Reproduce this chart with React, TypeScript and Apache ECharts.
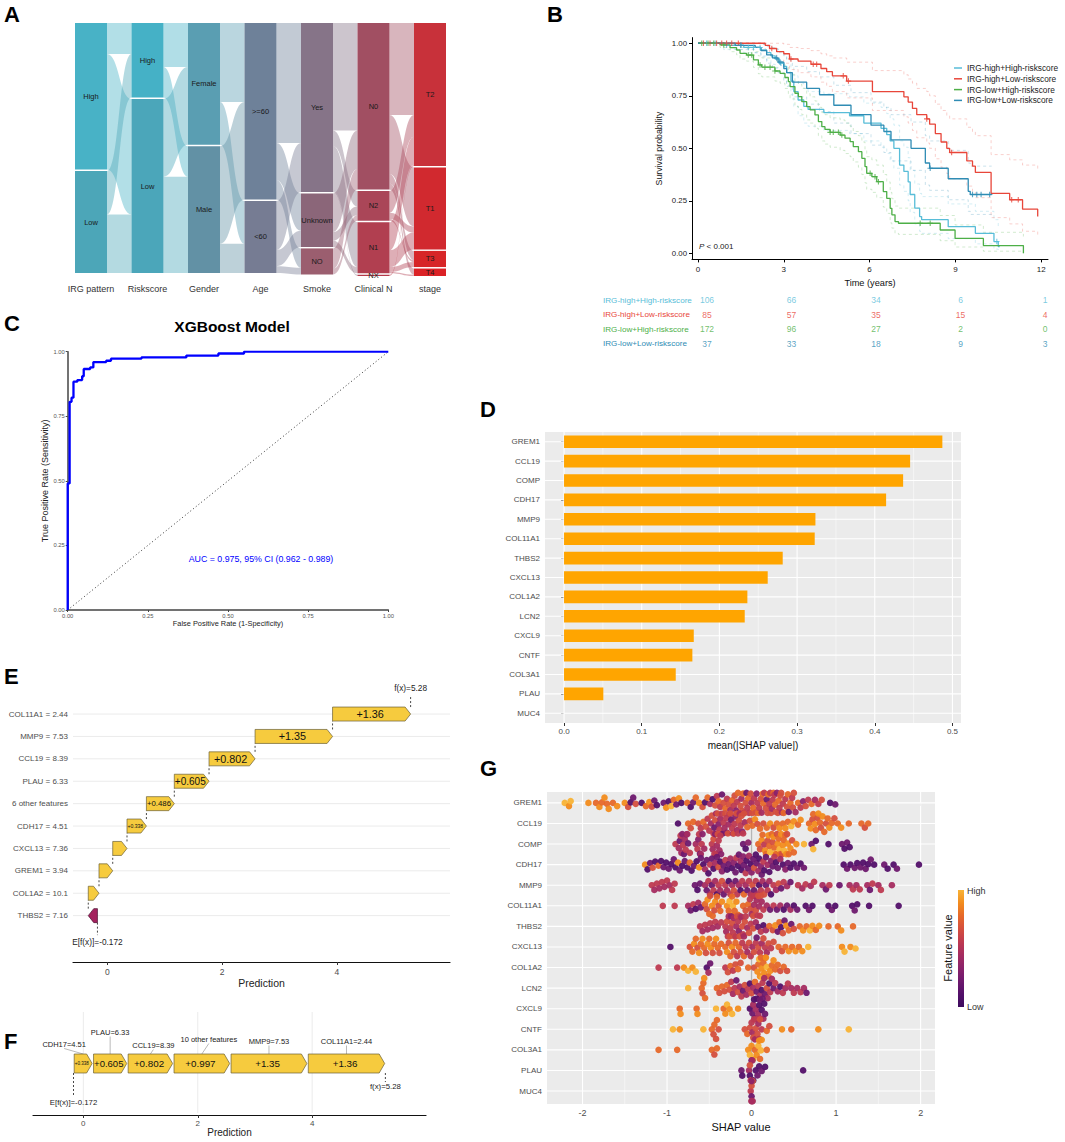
import React, { useEffect, useRef } from 'react';
import * as echarts from 'echarts';

const FONT = '"Liberation Sans", Arial, Helvetica, sans-serif';

// ---------------- Panel A: alluvial ----------------
const SANKEY_AXES = ['IRG pattern', 'Riskscore', 'Gender', 'Age', 'Smoke', 'Clinical N', 'stage'];
const SANKEY_STRATA = [
  ['High', 'Low'],
  ['High', 'Low'],
  ['Female', 'Male'],
  ['>=60', '<60'],
  ['Yes', 'Unknown', 'NO'],
  ['N0', 'N2', 'N1', 'NX'],
  ['T2', 'T1', 'T3', 'T4'],
];
const SANKEY_COLORS = [
  ['#48B2C6', '#4CA6B8'],
  ['#45B1C6', '#4BA6BA'],
  ['#5A9EB2', '#6291A5'],
  ['#6E8199', '#767C93'],
  ['#867488', '#8B6679', '#9B5E6F'],
  ['#A14F62', '#AA4658', '#B13F50', '#B53A4A'],
  ['#C8313A', '#D1292F', '#D72527', '#DB2226'],
];
// FLOWS[k][i][j]: count from stratum i of axis k to stratum j of axis k+1
const SANKEY_FLOWS = [
  [[50, 186], [70, 94]],
  [[71, 49], [125, 155]],
  [[127, 69], [157, 47]],
  [[193, 60, 31], [79, 26, 11]],
  [[173, 25, 72, 2], [62, 14, 10, 0], [33, 9, 0, 0]],
  [[148, 95, 15, 10], [35, 10, 3, 0], [45, 27, 8, 2], [2, 0, 0, 0]],
];

// ---------------- Panel B: Kaplan-Meier ----------------
const KM_GROUPS = ['IRG-high+High-riskscore', 'IRG-high+Low-riskscore', 'IRG-low+High-riskscore', 'IRG-low+Low-riskscore'];
const KM_COLORS = ['#58BDD8', '#E8463A', '#4DAF47', '#2F8CB4'];
const KM_T_HH = [0, 0.9, 1.6, 2.2, 2.4, 2.55, 2.7, 2.85, 3.0, 3.1, 3.25, 3.35, 3.5, 3.7, 3.85, 4.4, 5.3, 5.8, 6.4, 6.6, 6.72, 6.85, 7.05, 7.2, 7.35, 7.42, 7.58, 7.75, 7.82, 8.75, 9.7, 10.35, 10.5];
const KM_S_HH = [1, 0.99, 0.98, 0.968, 0.955, 0.94, 0.925, 0.905, 0.89, 0.86, 0.82, 0.77, 0.73, 0.70, 0.685, 0.67, 0.655, 0.62, 0.595, 0.565, 0.535, 0.50, 0.42, 0.39, 0.34, 0.28, 0.215, 0.175, 0.16, 0.127, 0.095, 0.056, 0.032];
const KM_U_HH = [1, 1, 1, 0.995, 0.99, 0.98, 0.97, 0.955, 0.945, 0.92, 0.885, 0.845, 0.81, 0.785, 0.77, 0.76, 0.745, 0.715, 0.695, 0.665, 0.64, 0.61, 0.535, 0.505, 0.455, 0.395, 0.33, 0.285, 0.27, 0.235, 0.20, 0.16, 0.13];
const KM_L_HH = [1, 0.97, 0.955, 0.94, 0.92, 0.90, 0.88, 0.855, 0.835, 0.80, 0.755, 0.70, 0.655, 0.62, 0.605, 0.585, 0.57, 0.535, 0.505, 0.475, 0.44, 0.405, 0.325, 0.295, 0.25, 0.195, 0.14, 0.105, 0.095, 0.07, 0.045, 0.02, 0.008];
const KM_END_HH = 10.55;
const KM_CENSOR_HH = [0.3, 0.6, 1.0, 1.5, 1.76, 1.94, 2.17, 2.9, 10.45];

const KM_T_HL = [0, 2.35, 2.5, 2.75, 3.0, 3.2, 3.5, 3.95, 4.3, 4.5, 4.7, 5.2, 6.1, 7.2, 7.35, 7.5, 7.65, 8.0, 8.1, 8.3, 8.5, 8.7, 8.8, 9.4, 9.6, 9.7, 10.25, 10.9, 11.35, 11.88];
const KM_S_HL = [1, 0.99, 0.975, 0.96, 0.95, 0.925, 0.915, 0.90, 0.88, 0.865, 0.845, 0.82, 0.77, 0.745, 0.72, 0.69, 0.66, 0.64, 0.615, 0.57, 0.53, 0.50, 0.48, 0.44, 0.415, 0.385, 0.285, 0.255, 0.21, 0.175];
const KM_U_HL = [1, 1, 1, 1, 0.995, 0.98, 0.975, 0.965, 0.95, 0.94, 0.93, 0.91, 0.87, 0.85, 0.83, 0.81, 0.785, 0.77, 0.75, 0.71, 0.68, 0.655, 0.64, 0.60, 0.58, 0.56, 0.47, 0.445, 0.42, 0.40];
const KM_L_HL = [1, 0.97, 0.945, 0.92, 0.905, 0.875, 0.86, 0.84, 0.815, 0.795, 0.77, 0.74, 0.68, 0.65, 0.62, 0.585, 0.55, 0.525, 0.50, 0.45, 0.41, 0.38, 0.355, 0.32, 0.29, 0.265, 0.17, 0.14, 0.105, 0.075];
const KM_END_HL = 11.88;
const KM_CENSOR_HL = [0.19, 0.42, 0.65, 0.83, 1.0, 1.18, 1.41, 2.58, 3.25, 4.03, 4.15, 5.08, 5.26, 8.0, 8.87, 10.97, 11.2];

const KM_T_LH = [0, 0.77, 1.12, 1.35, 1.47, 1.70, 1.94, 2.11, 2.23, 2.69, 2.87, 3.04, 3.16, 3.22, 3.39, 3.51, 3.63, 3.80, 3.92, 4.09, 4.21, 4.33, 4.44, 4.62, 4.97, 5.14, 5.32, 5.43, 5.61, 5.73, 5.84, 5.90, 6.08, 6.25, 6.48, 6.60, 6.72, 6.78, 6.89, 7.01, 8.47, 8.99, 9.98, 11.38];
const KM_S_LH = [1, 0.992, 0.979, 0.968, 0.952, 0.944, 0.921, 0.897, 0.886, 0.868, 0.857, 0.837, 0.817, 0.794, 0.762, 0.746, 0.722, 0.698, 0.683, 0.659, 0.627, 0.603, 0.590, 0.576, 0.563, 0.548, 0.532, 0.508, 0.484, 0.452, 0.413, 0.381, 0.365, 0.341, 0.294, 0.262, 0.214, 0.183, 0.151, 0.143, 0.111, 0.071, 0.037, 0];
const KM_U_LH = [1, 1, 0.995, 0.99, 0.98, 0.975, 0.96, 0.94, 0.93, 0.915, 0.905, 0.89, 0.87, 0.85, 0.82, 0.805, 0.785, 0.76, 0.745, 0.725, 0.695, 0.67, 0.66, 0.645, 0.635, 0.62, 0.605, 0.58, 0.56, 0.53, 0.49, 0.46, 0.445, 0.42, 0.375, 0.34, 0.29, 0.26, 0.225, 0.215, 0.18, 0.135, 0.10, 0.08];
const KM_L_LH = [1, 0.98, 0.96, 0.945, 0.925, 0.915, 0.885, 0.855, 0.84, 0.82, 0.81, 0.785, 0.76, 0.735, 0.70, 0.685, 0.66, 0.635, 0.62, 0.595, 0.56, 0.535, 0.52, 0.505, 0.49, 0.475, 0.46, 0.435, 0.41, 0.375, 0.335, 0.305, 0.29, 0.265, 0.22, 0.19, 0.145, 0.12, 0.095, 0.09, 0.06, 0.03, 0.01, 0];
const KM_END_LH = 11.38;
const KM_CENSOR_LH = [0.13, 0.35, 0.55, 0.9, 1.76, 1.88, 2.17, 2.34, 2.52, 2.69, 4.62, 4.73, 4.91, 5.03, 6.02, 6.19, 6.31, 7.77, 8.12];

const KM_T_LL = [0, 1.3, 2.0, 2.2, 2.4, 2.6, 2.8, 3.0, 3.1, 3.3, 3.8, 4.25, 4.75, 5.35, 6.05, 6.5, 6.75, 7.45, 7.95, 8.1, 8.75, 9.45, 9.52];
const KM_S_LL = [1, 0.99, 0.98, 0.965, 0.945, 0.93, 0.91, 0.88, 0.86, 0.815, 0.785, 0.755, 0.705, 0.66, 0.61, 0.58, 0.54, 0.50, 0.43, 0.405, 0.355, 0.295, 0.28];
const KM_U_LL = [1, 1, 1, 0.995, 0.985, 0.975, 0.96, 0.94, 0.925, 0.89, 0.865, 0.84, 0.80, 0.765, 0.72, 0.695, 0.66, 0.625, 0.56, 0.535, 0.49, 0.43, 0.415];
const KM_L_LL = [1, 0.97, 0.955, 0.935, 0.905, 0.885, 0.86, 0.82, 0.795, 0.745, 0.71, 0.675, 0.62, 0.57, 0.515, 0.48, 0.44, 0.395, 0.325, 0.30, 0.255, 0.20, 0.185];
const KM_END_LL = 10.27;
const KM_CENSOR_LL = [1.5, 2.75, 2.87, 8.12, 9.6, 9.75, 9.9, 10.2];

const KM_TICKS = [0, 3, 6, 9, 12];
const KM_YTICKS = [0, 0.25, 0.5, 0.75, 1];
const RISK_TIMES = [0, 3, 6, 9, 12];
const RISK_HH = [106, 66, 34, 6, 1];
const RISK_HL = [85, 57, 35, 15, 4];
const RISK_LH = [172, 96, 27, 2, 0];
const RISK_LL = [37, 33, 18, 9, 3];

// ---------------- Panel C: ROC ----------------
const ROC_FPR = [0, 0, 0.006, 0.006, 0.012, 0.012, 0.018, 0.018, 0.03, 0.03, 0.045, 0.045, 0.05, 0.05, 0.07, 0.07, 0.08, 0.08, 0.12, 0.12, 0.135, 0.135, 0.23, 0.23, 0.37, 0.37, 0.47, 0.47, 0.55, 0.55, 1];
const ROC_TPR = [0, 0.49, 0.49, 0.806, 0.806, 0.822, 0.822, 0.884, 0.884, 0.89, 0.89, 0.905, 0.905, 0.933, 0.933, 0.939, 0.939, 0.96, 0.96, 0.965, 0.965, 0.973, 0.973, 0.978, 0.978, 0.985, 0.985, 0.993, 0.993, 1, 1];

// ---------------- Panel D: mean |SHAP| ----------------
const D_FEATURES = ['GREM1', 'CCL19', 'COMP', 'CDH17', 'MMP9', 'COL11A1', 'THBS2', 'CXCL13', 'COL1A2', 'LCN2', 'CXCL9', 'CNTF', 'COL3A1', 'PLAU', 'MUC4'];
const D_VALUES = [0.487, 0.4455, 0.4365, 0.4146, 0.3236, 0.3227, 0.2815, 0.2622, 0.236, 0.2326, 0.167, 0.1652, 0.1438, 0.0506, 0.0];
const D_TICKS = [0, 0.1, 0.2, 0.3, 0.4, 0.5];
const D_MINOR = [0.05, 0.15, 0.25, 0.35, 0.45];

// ---------------- Panel E: waterfall ----------------
const E_FEATURES = ['COL11A1 = 2.44', 'MMP9 = 7.53', 'CCL19 = 8.39', 'PLAU = 6.33', '6 other features', 'CDH17 = 4.51', 'CXCL13 = 7.36', 'GREM1 = 3.94', 'COL1A2 = 10.1', 'THBS2 = 7.16'];
const E_CONTRIB = [1.36, 1.35, 0.802, 0.605, 0.486, 0.338, 0.249, 0.239, 0.187, -0.16];
const E_BASE = -0.172;
const PRED_TICKS = [0, 2, 4];

// ---------------- Panel F: force plot ----------------
const F_FEATURES = ['CDH17=4.51', 'PLAU=6.33', 'CCL19=8.39', '10 other features', 'MMP9=7.53', 'COL11A1=2.44'];
const F_CONTRIB = [0.338, 0.605, 0.802, 0.997, 1.35, 1.36];

// ---------------- Panel G: SHAP beeswarm ([shap, feature value 0-9]) ----------------
const G_FEATURES = D_FEATURES;
const G_GREM1 = [[-2.21, 9], [-2.16, 8], [-2.14, 9], [-1.93, 8], [-1.84, 7], [-1.8, 8], [-1.77, 7], [-1.74, 8], [-1.71, 7], [-1.69, 8], [-1.64, 7], [-1.59, 8], [-1.5, 8], [-1.46, 6], [-1.43, 1], [-1.4, 2], [-1.37, 6], [-1.3, 1], [-1.25, 7], [-1.21, 8], [-1.18, 6], [-1.15, 2], [-1.12, 1], [-1.04, 2], [-1.01, 8], [-0.98, 1], [-0.95, 9], [-0.92, 7], [-0.89, 2], [-0.86, 8], [-0.83, 1], [-0.76, 7], [-0.72, 1], [-0.69, 2], [-0.66, 7], [-0.62, 8], [-0.58, 6], [-0.55, 1], [-0.52, 7], [-0.49, 4], [-0.46, 1], [-0.43, 6], [-0.41, 5], [-0.39, 7], [-0.37, 5], [-0.35, 2], [-0.33, 6], [-0.31, 7], [-0.29, 5], [-0.27, 6], [-0.25, 4], [-0.23, 7], [-0.21, 5], [-0.2, 6], [-0.18, 3], [-0.17, 5], [-0.16, 7], [-0.15, 5], [-0.13, 6], [-0.12, 4], [-0.11, 6], [-0.1, 7], [-0.09, 5], [-0.07, 6], [-0.06, 2], [-0.05, 5], [-0.04, 7], [-0.03, 5], [-0.01, 6], [0.0, 4], [0.01, 6], [0.02, 7], [0.03, 5], [0.05, 6], [0.06, 3], [0.07, 5], [0.08, 7], [0.09, 5], [0.11, 6], [0.12, 4], [0.13, 7], [0.14, 7], [0.15, 5], [0.17, 6], [0.18, 2], [0.19, 6], [0.2, 7], [0.21, 5], [0.22, 5], [0.23, 6], [0.24, 4], [0.25, 5], [0.26, 7], [0.27, 5], [0.28, 7], [0.29, 6], [0.3, 3], [0.31, 6], [0.32, 7], [0.33, 5], [0.34, 6], [0.35, 6], [0.36, 4], [0.37, 5], [0.38, 7], [0.4, 5], [0.42, 6], [0.43, 7], [0.44, 2], [0.46, 7], [0.48, 5], [0.49, 6], [0.5, 6], [0.52, 4], [0.55, 7], [0.58, 5], [0.61, 3], [0.64, 6], [0.67, 5], [0.71, 7], [0.75, 4], [0.79, 5], [0.83, 6], [0.93, 1], [0.99, 2]];
const G_CCL19 = [[-0.87, 1], [-0.75, 7], [-0.72, 6], [-0.69, 7], [-0.63, 6], [-0.6, 5], [-0.57, 7], [-0.54, 6], [-0.52, 5], [-0.5, 5], [-0.48, 4], [-0.47, 6], [-0.45, 5], [-0.44, 2], [-0.43, 6], [-0.42, 4], [-0.41, 5], [-0.4, 6], [-0.39, 3], [-0.38, 5], [-0.37, 4], [-0.36, 6], [-0.35, 5], [-0.34, 2], [-0.33, 5], [-0.32, 4], [-0.31, 6], [-0.3, 5], [-0.29, 3], [-0.28, 6], [-0.27, 4], [-0.26, 5], [-0.25, 6], [-0.24, 2], [-0.23, 5], [-0.22, 4], [-0.21, 6], [-0.2, 5], [-0.19, 3], [-0.18, 6], [-0.17, 4], [-0.16, 5], [-0.15, 6], [-0.14, 4], [-0.13, 5], [-0.12, 6], [-0.11, 3], [-0.1, 5], [-0.09, 6], [-0.08, 4], [-0.05, 7], [-0.02, 6], [0.01, 7], [0.04, 8], [0.07, 6], [0.1, 7], [0.14, 6], [0.18, 7], [0.22, 8], [0.26, 6], [0.3, 7], [0.33, 8], [0.37, 7], [0.4, 8], [0.43, 7], [0.47, 9], [0.5, 8], [0.55, 7], [0.58, 8], [0.68, 7], [0.7, 8], [0.72, 6], [0.73, 7], [0.75, 8], [0.76, 7], [0.78, 6], [0.79, 8], [0.81, 7], [0.82, 6], [0.84, 8], [0.86, 7], [0.88, 6], [0.9, 7], [0.92, 8], [0.95, 7], [0.98, 6], [1.02, 7], [1.06, 8], [1.15, 7], [1.3, 7], [1.34, 6], [1.38, 7]];
const G_COMP = [[-0.9, 5], [-0.86, 4], [-0.85, 2], [-0.84, 5], [-0.83, 4], [-0.82, 3], [-0.81, 5], [-0.8, 2], [-0.79, 4], [-0.78, 5], [-0.77, 3], [-0.76, 4], [-0.75, 2], [-0.73, 5], [-0.66, 4], [-0.64, 5], [-0.63, 3], [-0.62, 5], [-0.61, 2], [-0.6, 4], [-0.59, 5], [-0.58, 3], [-0.56, 4], [-0.47, 5], [-0.46, 4], [-0.45, 6], [-0.44, 5], [-0.43, 3], [-0.42, 5], [-0.41, 4], [-0.4, 6], [-0.39, 5], [-0.38, 4], [-0.37, 5], [-0.36, 3], [-0.1, 2], [-0.07, 1], [-0.04, 3], [0.08, 7], [0.1, 6], [0.12, 8], [0.13, 7], [0.15, 5], [0.16, 8], [0.17, 7], [0.19, 6], [0.2, 8], [0.21, 7], [0.22, 9], [0.24, 7], [0.25, 6], [0.26, 8], [0.27, 7], [0.28, 9], [0.29, 7], [0.3, 6], [0.31, 8], [0.32, 7], [0.33, 9], [0.34, 7], [0.35, 8], [0.36, 6], [0.37, 8], [0.38, 7], [0.39, 9], [0.4, 7], [0.41, 8], [0.42, 6], [0.43, 8], [0.44, 7], [0.46, 8], [0.48, 6], [0.5, 7], [0.53, 8], [0.62, 9], [0.71, 2], [0.73, 9], [0.76, 1], [0.91, 1], [1.07, 2], [1.1, 1], [1.13, 2], [1.16, 1]];
const G_CDH17 = [[-1.26, 8], [-1.23, 1], [-1.2, 2], [-1.17, 6], [-1.14, 1], [-1.1, 7], [-1.07, 1], [-1.04, 2], [-1.01, 1], [-0.98, 2], [-0.95, 1], [-0.92, 2], [-0.9, 1], [-0.87, 8], [-0.85, 2], [-0.82, 1], [-0.79, 2], [-0.76, 1], [-0.73, 7], [-0.71, 1], [-0.68, 2], [-0.65, 1], [-0.62, 8], [-0.6, 2], [-0.57, 1], [-0.55, 4], [-0.53, 2], [-0.51, 1], [-0.49, 5], [-0.47, 2], [-0.45, 1], [-0.43, 4], [-0.41, 2], [-0.39, 6], [-0.37, 1], [-0.35, 3], [-0.33, 2], [-0.31, 5], [-0.29, 1], [-0.27, 2], [-0.25, 4], [-0.23, 1], [-0.21, 3], [-0.19, 2], [-0.18, 5], [-0.16, 1], [-0.15, 2], [-0.13, 4], [-0.12, 1], [-0.1, 3], [-0.09, 2], [-0.07, 5], [-0.06, 1], [-0.04, 2], [-0.03, 4], [-0.01, 1], [0.0, 3], [0.02, 2], [0.03, 6], [0.05, 1], [0.06, 2], [0.08, 4], [0.09, 1], [0.11, 3], [0.12, 2], [0.14, 5], [0.15, 1], [0.17, 2], [0.19, 4], [0.21, 1], [0.23, 3], [0.25, 2], [0.27, 5], [0.29, 1], [0.31, 2], [0.34, 4], [0.37, 1], [0.4, 3], [0.43, 2], [0.46, 1], [0.5, 1], [0.54, 2], [0.58, 1], [0.62, 2], [1.09, 1], [1.13, 2], [1.17, 1], [1.22, 2], [1.25, 1], [1.29, 2], [1.32, 1], [1.35, 2], [1.38, 1], [1.41, 2], [1.45, 1], [1.57, 2], [1.61, 1], [1.68, 1], [1.72, 2], [1.98, 1]];
const G_MMP9 = [[-1.18, 5], [-1.15, 4], [-1.12, 5], [-1.09, 4], [-1.06, 5], [-1.03, 4], [-1.0, 5], [-0.97, 4], [-0.94, 5], [-0.91, 5], [-0.67, 2], [-0.64, 1], [-0.61, 2], [-0.55, 4], [-0.53, 2], [-0.51, 5], [-0.49, 4], [-0.47, 2], [-0.45, 5], [-0.43, 4], [-0.41, 1], [-0.39, 5], [-0.37, 4], [-0.35, 6], [-0.33, 2], [-0.31, 5], [-0.29, 4], [-0.27, 1], [-0.25, 5], [-0.23, 4], [-0.21, 6], [-0.19, 2], [-0.17, 5], [-0.15, 4], [-0.13, 1], [-0.11, 5], [-0.09, 7], [-0.07, 4], [-0.05, 2], [-0.03, 5], [-0.01, 4], [0.01, 6], [0.03, 2], [0.05, 5], [0.07, 4], [0.09, 1], [0.11, 5], [0.13, 4], [0.15, 6], [0.17, 2], [0.19, 5], [0.21, 4], [0.23, 1], [0.26, 5], [0.29, 4], [0.32, 6], [0.35, 2], [0.38, 5], [0.42, 4], [0.46, 2], [0.55, 5], [0.6, 4], [0.64, 5], [0.7, 4], [0.74, 5], [0.84, 4], [0.88, 2], [0.92, 5], [1.04, 2], [1.16, 4], [1.2, 5], [1.24, 4], [1.28, 5], [1.37, 4], [1.4, 2], [1.43, 5], [1.5, 4], [1.53, 5], [1.66, 4]];
const G_COL11A1 = [[-1.05, 5], [-0.91, 5], [-0.75, 4], [-0.72, 2], [-0.69, 5], [-0.66, 1], [-0.63, 4], [-0.6, 2], [-0.55, 7], [-0.53, 6], [-0.52, 8], [-0.5, 7], [-0.49, 6], [-0.47, 8], [-0.46, 7], [-0.44, 6], [-0.43, 8], [-0.41, 7], [-0.39, 6], [-0.37, 7], [-0.35, 8], [-0.29, 8], [-0.27, 7], [-0.26, 9], [-0.24, 8], [-0.23, 7], [-0.22, 9], [-0.21, 8], [-0.2, 7], [-0.18, 8], [-0.16, 7], [-0.1, 7], [-0.07, 6], [-0.04, 7], [-0.02, 5], [-0.01, 6], [0.0, 4], [0.01, 5], [0.02, 6], [0.03, 4], [0.04, 5], [0.05, 6], [0.06, 4], [0.07, 5], [0.08, 6], [0.09, 4], [0.1, 5], [0.11, 6], [0.12, 4], [0.14, 5], [0.18, 4], [0.22, 2], [0.26, 5], [0.3, 2], [0.34, 4], [0.38, 1], [0.42, 2], [0.46, 4], [0.5, 1], [0.54, 2], [0.64, 1], [0.68, 2], [0.72, 1], [0.91, 1], [0.95, 2], [0.99, 1], [1.19, 1], [1.22, 2], [1.25, 1], [1.39, 1], [1.74, 1]];
const G_THBS2 = [[-0.61, 5], [-0.58, 4], [-0.55, 5], [-0.52, 4], [-0.49, 5], [-0.46, 4], [-0.43, 5], [-0.4, 4], [-0.36, 5], [-0.31, 5], [-0.3, 4], [-0.29, 6], [-0.28, 5], [-0.27, 4], [-0.26, 6], [-0.25, 5], [-0.24, 3], [-0.23, 6], [-0.22, 5], [-0.21, 4], [-0.2, 6], [-0.19, 5], [-0.18, 4], [-0.17, 6], [-0.16, 5], [-0.15, 3], [-0.14, 6], [-0.13, 5], [-0.12, 4], [-0.11, 6], [-0.1, 5], [-0.09, 4], [-0.08, 6], [-0.07, 5], [-0.05, 4], [-0.03, 6], [-0.01, 5], [0.02, 6], [0.05, 4], [0.08, 2], [0.11, 5], [0.14, 1], [0.17, 4], [0.21, 7], [0.25, 6], [0.28, 8], [0.31, 2], [0.33, 7], [0.35, 1], [0.37, 6], [0.39, 2], [0.41, 8], [0.44, 7], [0.47, 2], [0.5, 6], [0.57, 7], [0.61, 8], [0.65, 7], [0.69, 9], [0.72, 8], [0.76, 7], [0.8, 8], [0.91, 7], [1.02, 7], [1.06, 8], [1.2, 7]];
const G_CXCL13 = [[-0.96, 1], [-0.73, 6], [-0.7, 7], [-0.68, 8], [-0.66, 7], [-0.64, 6], [-0.62, 8], [-0.6, 7], [-0.58, 8], [-0.56, 7], [-0.54, 6], [-0.52, 8], [-0.5, 7], [-0.48, 8], [-0.46, 6], [-0.44, 7], [-0.42, 8], [-0.4, 7], [-0.38, 6], [-0.36, 7], [-0.31, 7], [-0.29, 8], [-0.27, 6], [-0.25, 7], [-0.23, 8], [-0.21, 6], [-0.19, 7], [-0.17, 5], [-0.15, 7], [-0.13, 6], [-0.11, 5], [-0.09, 7], [-0.07, 5], [-0.05, 4], [-0.03, 6], [-0.01, 5], [0.01, 4], [0.03, 6], [0.05, 5], [0.06, 2], [0.08, 6], [0.1, 5], [0.12, 4], [0.14, 6], [0.16, 5], [0.18, 4], [0.2, 6], [0.23, 5], [0.26, 6], [0.32, 7], [0.36, 6], [0.4, 7], [0.44, 8], [0.48, 7], [0.52, 8], [0.56, 7], [0.6, 8], [0.67, 9], [1.07, 8], [1.1, 9], [1.17, 8], [1.23, 9]];
const G_COL1A2 = [[-1.1, 5], [-0.88, 5], [-0.8, 8], [-0.75, 9], [-0.7, 8], [-0.66, 9], [-0.53, 1], [-0.51, 4], [-0.49, 2], [-0.31, 5], [-0.28, 6], [-0.25, 7], [-0.22, 5], [-0.19, 6], [-0.16, 7], [-0.13, 6], [-0.04, 7], [0.03, 6], [0.07, 8], [0.08, 7], [0.09, 9], [0.1, 8], [0.11, 7], [0.12, 8], [0.13, 9], [0.14, 7], [0.15, 8], [0.16, 7], [0.17, 8], [0.18, 9], [0.2, 7], [0.22, 8], [0.24, 7], [0.26, 8], [0.28, 7], [0.31, 7], [0.34, 6], [0.38, 7], [0.42, 6]];
const G_LCN2 = [[-0.75, 9], [-0.59, 7], [-0.58, 6], [-0.57, 7], [-0.56, 8], [-0.55, 7], [-0.41, 7], [-0.38, 6], [-0.35, 7], [-0.32, 6], [-0.29, 7], [-0.26, 6], [-0.24, 5], [-0.22, 4], [-0.2, 5], [-0.18, 2], [-0.16, 6], [-0.14, 4], [-0.12, 5], [-0.1, 2], [-0.08, 6], [-0.06, 4], [-0.04, 5], [-0.02, 1], [0.0, 6], [0.02, 4], [0.04, 7], [0.06, 2], [0.08, 5], [0.1, 4], [0.12, 1], [0.13, 5], [0.15, 4], [0.16, 2], [0.18, 6], [0.19, 4], [0.21, 1], [0.22, 5], [0.24, 4], [0.26, 2], [0.28, 5], [0.31, 4], [0.34, 1], [0.37, 5], [0.4, 4], [0.43, 5], [0.47, 4], [0.5, 5], [0.54, 4], [0.58, 5], [0.62, 4], [0.65, 2]];
const G_CXCL9 = [[-0.85, 7], [-0.84, 8], [-0.65, 7], [-0.64, 8], [-0.42, 9], [-0.33, 7], [-0.31, 8], [-0.29, 9], [-0.26, 8], [-0.23, 9], [-0.16, 8], [-0.02, 1], [0.01, 2], [0.02, 4], [0.03, 1], [0.04, 2], [0.05, 4], [0.06, 1], [0.07, 2], [0.08, 4], [0.09, 1], [0.1, 2], [0.11, 4], [0.12, 1], [0.13, 2], [0.14, 4], [0.15, 1], [0.16, 2]];
const G_CNTF = [[-0.93, 9], [-0.85, 8], [-0.57, 9], [-0.47, 7], [-0.45, 6], [-0.44, 7], [-0.42, 6], [-0.41, 7], [-0.39, 6], [-0.08, 6], [-0.05, 7], [-0.02, 6], [0.0, 5], [0.01, 4], [0.02, 6], [0.03, 5], [0.04, 4], [0.05, 6], [0.06, 5], [0.07, 6], [0.08, 4], [0.09, 5], [0.1, 6], [0.12, 5], [0.18, 7], [0.21, 6], [0.36, 8], [0.47, 7], [0.79, 8], [1.15, 9]];
const G_COL3A1 = [[-1.1, 7], [-0.88, 7], [-0.47, 7], [-0.44, 6], [-0.41, 7], [-0.04, 8], [-0.02, 9], [0.0, 8], [0.02, 9], [0.04, 7], [0.06, 8], [0.08, 9], [0.09, 8], [0.1, 7], [0.11, 9], [0.12, 8], [0.18, 7]];
const G_PLAU = [[-0.12, 2], [-0.11, 1], [-0.03, 4], [-0.02, 1], [-0.01, 5], [0.0, 2], [0.01, 4], [0.02, 1], [-0.02, 6], [0.05, 1], [0.07, 2], [0.09, 1], [0.12, 2], [0.16, 1], [0.61, 1]];
const G_MUC4 = [[-0.01, 5], [0.0, 2], [0.0, 6], [0.01, 4], [0.01, 1], [0.0, 5], [0.01, 7], [0.0, 3], [0.01, 5], [0.0, 4]];
const G_ROWS = [G_GREM1, G_CCL19, G_COMP, G_CDH17, G_MMP9, G_COL11A1, G_THBS2, G_CXCL13, G_COL1A2, G_LCN2, G_CXCL9, G_CNTF, G_COL3A1, G_PLAU, G_MUC4];
const G_TICKS = [-2, -1, 0, 1, 2];
const G_MINOR = [-1.5, -0.5, 0.5, 1.5];
const PALETTE = ['#3D0B5E', '#531069', '#6E196E', '#8A226A', '#A52C60', '#BE3A51', '#D44F3E', '#E6682A', '#F28C1E', '#F8B336'];

// ---------------- layout ----------------
const SK = { left: 75, top: 23, width: 371, height: 253, nodeW: 32 };
const G_GRID = { left: 547, top: 792, width: 388, height: 312, xmin: -2.42, xmax: 2.17, ymin: -0.53, ymax: 14.63 };
const G_DOT = 6.6;
const G_GAP = 5.3;
const E_BAR_H = 14;
const F_BAR_H = 19;
const F_BAR_Y = 0.5;
const F_LABEL_PX_Y = [1044, 1032, 1045, 1039, 1041, 1041];
const F_LABEL_DX = [-19, 0, 3, 7, 0, 0];

function stepAt(T: number[], S: number[], t: number) {
  let v = S[0];
  for (let i = 0; i < T.length; i++) if (T[i] <= t) v = S[i];
  return v;
}

function swarm(xs: number[], d: number, cap: number) {
  const order = xs.map((_, i) => i).sort((a, b) => xs[a] - xs[b]);
  const placed: { x: number; y: number }[] = [];
  const out = new Array(xs.length).fill(0);
  for (const i of order) {
    const x = xs[i];
    const near = placed.filter((p) => Math.abs(p.x - x) < d);
    const cands = [0];
    near.forEach((p) => {
      const h = Math.sqrt(Math.max(0, d * d - (p.x - x) * (p.x - x)));
      cands.push(p.y + h, p.y - h);
    });
    cands.sort((a, b) => Math.abs(a) - Math.abs(b));
    let best = cands[cands.length - 1];
    for (const c of cands) {
      if (near.every((p) => (p.x - x) * (p.x - x) + (p.y - c) * (p.y - c) >= d * d - 1e-6)) { best = c; break; }
    }
    placed.push({ x, y: best });
    out[i] = Math.max(-cap, Math.min(cap, best));
  }
  return out;
}

function fmtContrib(c: number) {
  const v = Number(c.toPrecision(3));
  return (v >= 0 ? '+' : '') + String(v);
}

function txt(text: string, x: number, y: number, o: any = {}) {
  return {
    type: 'text', x, y, rotation: o.rotation || 0, silent: true,
    style: {
      text, rich: o.rich, fill: o.color || '#222', fontSize: o.size || 10, fontFamily: o.family || FONT,
      fontWeight: o.weight || 'normal', fontStyle: o.style || 'normal',
      align: o.align || 'center', textAlign: o.align || 'center', verticalAlign: o.va || 'middle', textVerticalAlign: o.va || 'middle',
    },
  };
}

function buildOption() {
  // ---- Sankey
  const nodes: any[] = [];
  const links: any[] = [];
  SANKEY_STRATA.forEach((strata, k) => strata.forEach((s, i) => nodes.push({
    name: `${k}:${s}`, itemStyle: { color: SANKEY_COLORS[k][i], borderWidth: 0 }, label: { formatter: s },
  })));
  SANKEY_FLOWS.forEach((mat, k) => mat.forEach((row, i) => row.forEach((v, j) => {
    if (v > 0) links.push({ source: `${k}:${SANKEY_STRATA[k][i]}`, target: `${k + 1}:${SANKEY_STRATA[k + 1][j]}`, value: v });
  })));

  const series: any[] = [];
  series.push({
    type: 'sankey', left: SK.left, top: SK.top, width: SK.width, height: SK.height,
    nodeWidth: SK.nodeW, nodeGap: 1.5, layoutIterations: 0, draggable: false, silent: true,
    data: nodes, links,
    label: { show: true, position: 'inside', fontSize: 7.5, color: '#1a1a1a', fontFamily: FONT },
    lineStyle: { color: 'source', opacity: 0.42, curveness: 0.5 },
    emphasis: { disabled: true },
  });

  // ---- KM
  const groups = [
    { T: KM_T_HH, S: KM_S_HH, U: KM_U_HH, L: KM_L_HH, end: KM_END_HH, c: KM_CENSOR_HH, risk: RISK_HH },
    { T: KM_T_HL, S: KM_S_HL, U: KM_U_HL, L: KM_L_HL, end: KM_END_HL, c: KM_CENSOR_HL, risk: RISK_HL },
    { T: KM_T_LH, S: KM_S_LH, U: KM_U_LH, L: KM_L_LH, end: KM_END_LH, c: KM_CENSOR_LH, risk: RISK_LH },
    { T: KM_T_LL, S: KM_S_LL, U: KM_U_LL, L: KM_L_LL, end: KM_END_LL, c: KM_CENSOR_LL, risk: RISK_LL },
  ];
  const stepData = (T: number[], V: number[], end: number) => T.map((t, i) => [t, V[i]]).concat([[end, V[V.length - 1]]]);
  groups.forEach((g, gi) => {
    ['U', 'L'].forEach((key) => series.push({
      type: 'line', name: `ci-${gi}-${key}`, xAxisIndex: 0, yAxisIndex: 0, step: 'end', symbol: 'none', silent: true,
      data: stepData(g.T, (g as any)[key], g.end), z: 1,
      lineStyle: { color: KM_COLORS[gi], width: 0.8, type: [3, 3], opacity: 0.32 },
    }));
  });
  groups.forEach((g, gi) => series.push({
    type: 'line', name: KM_GROUPS[gi], xAxisIndex: 0, yAxisIndex: 0, step: 'end', symbol: 'none', silent: true,
    data: stepData(g.T, g.S, g.end), z: 3, color: KM_COLORS[gi],
    lineStyle: { color: KM_COLORS[gi], width: 1.3 },
  }));
  groups.forEach((g, gi) => series.push({
    type: 'scatter', name: `cens-${gi}`, xAxisIndex: 0, yAxisIndex: 0, silent: true, z: 4,
    symbol: 'path://M2,0H3V2H5V3H3V5H2V3H0V2H2Z', symbolSize: 5.5,
    data: g.c.map((t) => [t, stepAt(g.T, g.S, t)]),
    itemStyle: { color: KM_COLORS[gi] },
  }));
  groups.forEach((g, gi) => series.push({
    type: 'scatter', name: `risk-${gi}`, xAxisIndex: 1, yAxisIndex: 1, silent: true, symbolSize: 1,
    data: RISK_TIMES.map((t, i) => [t, gi, g.risk[i]]),
    itemStyle: { color: 'rgba(0,0,0,0)' },
    label: { show: true, position: 'inside', formatter: (p: any) => String(p.value[2]), fontSize: 8.5, fontFamily: FONT, color: KM_COLORS[gi] },
  }));

  // ---- ROC
  series.push({
    type: 'line', name: 'diag', xAxisIndex: 2, yAxisIndex: 2, symbol: 'none', silent: true,
    data: [[0, 0], [1, 1]], lineStyle: { color: '#333', width: 1, type: [1, 2.5] },
  });
  series.push({
    type: 'line', name: 'roc', xAxisIndex: 2, yAxisIndex: 2, symbol: 'none', silent: true, z: 3,
    data: ROC_FPR.map((x, i) => [x, ROC_TPR[i]]), lineStyle: { color: '#0000FF', width: 2.3 },
  });

  // ---- D
  const dV = D_TICKS.map((v) => ({ v, major: true })).concat(D_MINOR.map((v) => ({ v, major: false })));
  series.push({
    type: 'custom', xAxisIndex: 3, yAxisIndex: 3, silent: true, z: 1,
    data: dV.map((o) => [o.v, 0]),
    renderItem: (params: any, api: any) => {
      const cs = params.coordSys; const o = dV[params.dataIndex];
      const x = api.coord([o.v, 0])[0];
      return { type: 'line', shape: { x1: x, y1: cs.y, x2: x, y2: cs.y + cs.height }, style: { stroke: '#fff', lineWidth: o.major ? 1.1 : 0.5 } };
    },
  });
  series.push({
    type: 'custom', xAxisIndex: 3, yAxisIndex: 3, silent: true, z: 1,
    data: D_FEATURES.map((_, i) => [0, i]),
    renderItem: (params: any, api: any) => {
      const cs = params.coordSys;
      const y = api.coord([0, params.dataIndex])[1];
      return { type: 'line', shape: { x1: cs.x, y1: y, x2: cs.x + cs.width, y2: y }, style: { stroke: '#fff', lineWidth: 1.1 } };
    },
  });
  series.push({
    type: 'bar', xAxisIndex: 3, yAxisIndex: 3, silent: true, z: 2, barWidth: 12.6,
    data: D_VALUES, itemStyle: { color: '#FFA500' },
  });

  // ---- E
  const nE = E_FEATURES.length;
  const eStart: number[] = new Array(nE); const eEnd: number[] = new Array(nE);
  let acc = E_BASE;
  for (let r = nE - 1; r >= 0; r--) { eStart[r] = acc; acc += E_CONTRIB[r]; eEnd[r] = acc; }
  const E_FX = acc;
  series.push({
    type: 'custom', xAxisIndex: 4, yAxisIndex: 4, silent: true, z: 1,
    data: E_FEATURES.map((_, r) => [0, r]),
    renderItem: (params: any, api: any) => {
      const cs = params.coordSys; const y = api.coord([0, params.dataIndex])[1];
      return { type: 'line', shape: { x1: cs.x, y1: y, x2: cs.x + cs.width, y2: y }, style: { stroke: '#EBEBEB', lineWidth: 1 } };
    },
  });
  const eConn: { x: number; r1: number; r2: number; d1: number; d2: number }[] = [];
  for (let r = 0; r < nE - 1; r++) eConn.push({ x: eStart[r], r1: r + 1, r2: r, d1: -E_BAR_H / 2, d2: E_BAR_H / 2 });
  eConn.push({ x: E_FX, r1: 0, r2: -0.85, d1: -E_BAR_H / 2, d2: 0 });
  eConn.push({ x: E_BASE, r1: nE - 1, r2: nE - 1 + 0.87, d1: E_BAR_H / 2, d2: 0 });
  series.push({
    type: 'custom', xAxisIndex: 4, yAxisIndex: 4, silent: true, z: 2,
    data: eConn.map((c) => [c.x, c.r1]),
    renderItem: (params: any, api: any) => {
      const c = eConn[params.dataIndex];
      const p1 = api.coord([c.x, c.r1]); const p2 = api.coord([c.x, c.r2]);
      return { type: 'line', shape: { x1: p1[0], y1: p1[1] + c.d1, x2: p2[0], y2: p2[1] + c.d2 }, style: { stroke: '#333', lineWidth: 0.9, lineDash: [2, 2] } };
    },
  });
  series.push({
    type: 'custom', xAxisIndex: 4, yAxisIndex: 4, silent: true, z: 3,
    data: eStart.map((s, r) => [s, r]),
    renderItem: (params: any, api: any) => {
      const r = params.dataIndex; const s = eStart[r]; const e = eEnd[r]; const c = E_CONTRIB[r];
      const p0 = api.coord([s, r]); const p1 = api.coord([e, r]);
      const x0 = p0[0], x1 = p1[0], y = p0[1], h = E_BAR_H;
      const w = Math.abs(x1 - x0); const a = Math.min(5.5, w * 0.6); const dir = x1 >= x0 ? 1 : -1;
      const pts = [[x0, y - h / 2], [x1 - dir * a, y - h / 2], [x1, y], [x1 - dir * a, y + h / 2], [x0, y + h / 2]];
      const label = fmtContrib(c);
      const fs = Math.min(10.8, (w - a * 0.5 - 1) / (0.515 * label.length));
      const children: any[] = [{ type: 'polygon', shape: { points: pts }, style: { fill: c >= 0 ? '#F6CB3E' : '#A4225E', stroke: c >= 0 ? '#6B6035' : '#4A1030', lineWidth: 0.7 } }];
      if (fs >= 4.5) children.push({ type: 'text', style: { text: label, x: (x0 + x1) / 2 - dir * a * 0.25, y, fill: '#111', fontSize: fs, fontFamily: FONT, align: 'center', textAlign: 'center', verticalAlign: 'middle', textVerticalAlign: 'middle' } });
      return { type: 'group', children };
    },
  });
  const eAnn = [
    { x: E_FX, r: -1.16, t: `f(x)=${E_FX.toFixed(2)}` },
    { x: E_BASE, r: nE - 1 + 1.18, t: `E[f(x)]=${E_BASE}` },
  ];
  series.push({
    type: 'custom', xAxisIndex: 4, yAxisIndex: 4, silent: true, z: 3,
    data: eAnn.map((a) => [a.x, a.r]),
    renderItem: (params: any, api: any) => {
      const a = eAnn[params.dataIndex]; const p = api.coord([a.x, a.r]);
      return { type: 'text', style: { text: a.t, x: p[0], y: p[1], fill: '#222', fontSize: 8.3, fontFamily: FONT, align: 'center', textAlign: 'center', verticalAlign: 'middle', textVerticalAlign: 'middle' } };
    },
  });

  // ---- F
  const nF = F_FEATURES.length;
  const fStart: number[] = []; const fEnd: number[] = [];
  let accF = E_BASE;
  for (let i = 0; i < nF; i++) { fStart.push(accF); accF += F_CONTRIB[i]; fEnd.push(accF); }
  const F_FX = accF;
  series.push({
    type: 'custom', xAxisIndex: 5, yAxisIndex: 5, silent: true, z: 1,
    data: PRED_TICKS.map((v) => [v, 0]),
    renderItem: (params: any, api: any) => {
      const cs = params.coordSys; const x = api.coord([PRED_TICKS[params.dataIndex], 0])[0];
      return { type: 'line', shape: { x1: x, y1: cs.y, x2: x, y2: cs.y + cs.height - 2 }, style: { stroke: '#EBEBEB', lineWidth: 1 } };
    },
  });
  series.push({
    type: 'custom', xAxisIndex: 5, yAxisIndex: 5, silent: true, z: 3,
    data: fStart.map((s) => [s, F_BAR_Y]),
    renderItem: (params: any, api: any) => {
      const i = params.dataIndex;
      const p0 = api.coord([fStart[i], F_BAR_Y]); const p1 = api.coord([fEnd[i], F_BAR_Y]);
      const x0 = p0[0] + 0.7, x1 = p1[0] - 0.7, y = p0[1], h = F_BAR_H;
      const w = x1 - x0; const a = Math.min(5.5, w * 0.5);
      const pts = [[x0, y - h / 2], [x1 - a, y - h / 2], [x1, y], [x1 - a, y + h / 2], [x0, y + h / 2]];
      const label = fmtContrib(F_CONTRIB[i]);
      const fs = Math.min(9.8, (w - a * 0.5 - 1) / (0.515 * label.length));
      const cx = (p0[0] + p1[0]) / 2;
      const ly = F_LABEL_PX_Y[i]; const lx = cx + F_LABEL_DX[i];
      return {
        type: 'group', children: [
          { type: 'line', shape: { x1: lx, y1: ly + 4.5, x2: cx, y2: y - h / 2 }, style: { stroke: '#8A8A8A', lineWidth: 0.6 } },
          { type: 'polygon', shape: { points: pts }, style: { fill: '#F6CB3E', stroke: '#6B6035', lineWidth: 0.7 } },
          { type: 'text', style: { text: label, x: (x0 + x1) / 2 - a * 0.25, y, fill: '#111', fontSize: fs, fontFamily: FONT, align: 'center', textAlign: 'center', verticalAlign: 'middle', textVerticalAlign: 'middle' } },
          { type: 'text', style: { text: F_FEATURES[i], x: lx, y: ly, fill: '#222', fontSize: 7.5, fontFamily: FONT, align: 'center', textAlign: 'center', verticalAlign: 'middle', textVerticalAlign: 'middle' } },
        ],
      };
    },
  });
  const fAnn = [
    { x: F_FX, yTo: 0.32, ty: 0.275, t: `f(x)=${F_FX.toFixed(2)}` },
    { x: E_BASE, yTo: 0.175, ty: 0.12, t: `E[f(x)]=${E_BASE}` },
  ];
  series.push({
    type: 'custom', xAxisIndex: 5, yAxisIndex: 5, silent: true, z: 2,
    data: fAnn.map((a) => [a.x, a.ty]),
    renderItem: (params: any, api: any) => {
      const a = fAnn[params.dataIndex];
      const pb = api.coord([a.x, F_BAR_Y]); const pe = api.coord([a.x, a.yTo]); const pt = api.coord([a.x, a.ty]);
      return {
        type: 'group', children: [
          { type: 'line', shape: { x1: pb[0], y1: pb[1] + F_BAR_H / 2, x2: pe[0], y2: pe[1] }, style: { stroke: '#333', lineWidth: 0.9, lineDash: [2, 2] } },
          { type: 'text', style: { text: a.t, x: pt[0], y: pt[1], fill: '#222', fontSize: 7.8, fontFamily: FONT, align: 'center', textAlign: 'center', verticalAlign: 'middle', textVerticalAlign: 'middle' } },
        ],
      };
    },
  });

  // ---- G
  const gxLines = G_TICKS.map((v) => ({ v, w: 1.1 })).concat(G_MINOR.map((v) => ({ v, w: 0.5 })));
  series.push({
    type: 'custom', xAxisIndex: 6, yAxisIndex: 6, silent: true, z: 1,
    data: gxLines.map((o) => [o.v, 0]),
    renderItem: (params: any, api: any) => {
      const cs = params.coordSys; const o = gxLines[params.dataIndex]; const x = api.coord([o.v, 0])[0];
      return { type: 'line', shape: { x1: x, y1: cs.y, x2: x, y2: cs.y + cs.height }, style: { stroke: '#fff', lineWidth: o.w } };
    },
  });
  series.push({
    type: 'custom', xAxisIndex: 6, yAxisIndex: 6, silent: true, z: 1,
    data: G_FEATURES.map((_, r) => [0, r]),
    renderItem: (params: any, api: any) => {
      const cs = params.coordSys; const y = api.coord([0, params.dataIndex])[1];
      return { type: 'line', shape: { x1: cs.x, y1: y, x2: cs.x + cs.width, y2: y }, style: { stroke: '#fff', lineWidth: 1.1 } };
    },
  });
  series.push({
    type: 'custom', xAxisIndex: 6, yAxisIndex: 6, silent: true, z: 2,
    data: [[0, 0]],
    renderItem: (params: any, api: any) => {
      const cs = params.coordSys; const x = api.coord([0, 0])[0];
      return { type: 'line', shape: { x1: x, y1: cs.y, x2: x, y2: cs.y + cs.height }, style: { stroke: '#B5B5B5', lineWidth: 1.3 } };
    },
  });
  const pxX = G_GRID.width / (G_GRID.xmax - G_GRID.xmin);
  const pxRow = G_GRID.height / (G_GRID.ymax - G_GRID.ymin);
  const gData: any[] = [];
  G_ROWS.forEach((pts, row) => {
    const dys = swarm(pts.map((p) => p[0] * pxX), G_GAP, 10);
    pts.forEach((p, i) => gData.push([p[0], row + dys[i] / pxRow, p[1]]));
  });
  series.push({
    type: 'scatter', xAxisIndex: 6, yAxisIndex: 6, silent: true, z: 3, symbolSize: G_DOT,
    data: gData, itemStyle: { color: (p: any) => PALETTE[p.value[2]], opacity: 0.95 },
  });

  // ---- axes
  const axLabel = (o: any) => ({ fontFamily: FONT, color: '#4D4D4D', fontSize: 8, ...o });
  const xAxis: any[] = [
    {
      gridIndex: 0, type: 'value', min: -0.21, max: 12.24,
      axisLine: { show: true, onZero: false, lineStyle: { color: '#000', width: 1 } },
      axisTick: { show: true, length: 3, customValues: KM_TICKS, lineStyle: { color: '#000' } },
      axisLabel: axLabel({ customValues: KM_TICKS, fontSize: 8, color: '#222', margin: 6 }),
      splitLine: { show: false }, name: 'Time (years)', nameLocation: 'middle', nameGap: 19,
      nameTextStyle: { fontSize: 9.2, fontFamily: FONT, color: '#111' },
    },
    { gridIndex: 1, type: 'value', min: 0, max: 12, show: false },
    {
      gridIndex: 2, type: 'value', min: 0, max: 1, interval: 0.25,
      axisLine: { show: true, onZero: false, lineStyle: { color: '#444', width: 1.5 } },
      axisTick: { show: true, length: 2, lineStyle: { color: '#444' } },
      axisLabel: axLabel({ formatter: (v: number) => v.toFixed(2), fontSize: 5.8, color: '#555', margin: 3 }),
      splitLine: { show: false }, name: 'False Positive Rate (1-Specificity)', nameLocation: 'middle', nameGap: 10,
      nameTextStyle: { fontSize: 7.4, fontFamily: FONT, color: '#222' },
    },
    {
      gridIndex: 3, type: 'value', min: -0.0245, max: 0.511,
      axisLine: { show: false }, axisTick: { show: true, length: 3, customValues: D_TICKS, lineStyle: { color: '#333' } },
      axisLabel: axLabel({ customValues: D_TICKS, formatter: (v: number) => v.toFixed(1), margin: 4 }),
      splitLine: { show: false }, name: 'mean(|SHAP value|)', nameLocation: 'middle', nameGap: 17,
      nameTextStyle: { fontSize: 10, fontFamily: FONT, color: '#111' },
    },
    {
      gridIndex: 4, type: 'value', min: -0.598, max: 5.97,
      axisLine: { show: true, onZero: false, lineStyle: { color: '#111', width: 1.2 } },
      axisTick: { show: true, length: 3, customValues: PRED_TICKS, lineStyle: { color: '#333' } },
      axisLabel: axLabel({ customValues: PRED_TICKS, fontSize: 8.5, margin: 5 }),
      splitLine: { show: false }, name: 'Prediction', nameLocation: 'middle', nameGap: 15,
      nameTextStyle: { fontSize: 10.5, fontFamily: FONT, color: '#222' },
    },
    {
      gridIndex: 5, type: 'value', min: -0.88, max: 5.99,
      axisLine: { show: true, onZero: false, lineStyle: { color: '#111', width: 1.2 } },
      axisTick: { show: true, length: 3, customValues: PRED_TICKS, lineStyle: { color: '#333' } },
      axisLabel: axLabel({ customValues: PRED_TICKS, fontSize: 8, margin: 4 }),
      splitLine: { show: false }, name: 'Prediction', nameLocation: 'middle', nameGap: 12,
      nameTextStyle: { fontSize: 10, fontFamily: FONT, color: '#222' },
    },
    {
      gridIndex: 6, type: 'value', min: G_GRID.xmin, max: G_GRID.xmax,
      axisLine: { show: false }, axisTick: { show: true, length: 3, customValues: G_TICKS, lineStyle: { color: '#333' } },
      axisLabel: axLabel({ customValues: G_TICKS, fontSize: 9, margin: 4 }),
      splitLine: { show: false }, name: 'SHAP value', nameLocation: 'middle', nameGap: 17,
      nameTextStyle: { fontSize: 11, fontFamily: FONT, color: '#111' },
    },
  ];
  const rowIdx = (n: number) => Array.from({ length: n }, (_, i) => i);
  const yAxis: any[] = [
    {
      gridIndex: 0, type: 'value', min: -0.029, max: 1.027,
      axisLine: { show: true, onZero: false, lineStyle: { color: '#000', width: 1 } },
      axisTick: { show: true, length: 3, customValues: KM_YTICKS, lineStyle: { color: '#000' } },
      axisLabel: axLabel({ customValues: KM_YTICKS, formatter: (v: number) => v.toFixed(2), fontSize: 7.8, color: '#222', margin: 5 }),
      splitLine: { show: false }, name: 'Survival probability', nameLocation: 'middle', nameGap: 29,
      nameTextStyle: { fontSize: 8.8, fontFamily: FONT, color: '#111' },
    },
    { gridIndex: 1, type: 'value', min: -0.5, max: 3.5, inverse: true, show: false },
    {
      gridIndex: 2, type: 'value', min: 0, max: 1, interval: 0.25,
      axisLine: { show: true, onZero: false, lineStyle: { color: '#444', width: 1.5 } },
      axisTick: { show: true, length: 2, lineStyle: { color: '#444' } },
      axisLabel: axLabel({ formatter: (v: number) => v.toFixed(2), fontSize: 5.8, color: '#555', margin: 3 }),
      splitLine: { show: false }, name: 'True Positive Rate (Sensitivity)', nameLocation: 'middle', nameGap: 15,
      nameTextStyle: { fontSize: 9, fontFamily: FONT, color: '#222' },
    },
    {
      gridIndex: 3, type: 'category', data: D_FEATURES, inverse: true,
      axisLine: { show: false }, axisTick: { show: true, length: 3, alignWithLabel: true, lineStyle: { color: '#333' } },
      axisLabel: axLabel({ margin: 5 }), splitLine: { show: false },
    },
    {
      gridIndex: 4, type: 'value', min: -1.52, max: 11.07, inverse: true,
      axisLine: { show: false }, axisTick: { show: false },
      axisLabel: axLabel({ customValues: rowIdx(nE), formatter: (v: number) => E_FEATURES[Math.round(v)] || '', fontSize: 8, margin: 5 }),
      splitLine: { show: false },
    },
    { gridIndex: 5, type: 'value', min: 0, max: 1, show: false },
    {
      gridIndex: 6, type: 'value', min: G_GRID.ymin, max: G_GRID.ymax, inverse: true,
      axisLine: { show: false }, axisTick: { show: true, length: 3, customValues: rowIdx(15), lineStyle: { color: '#333' } },
      axisLabel: axLabel({ customValues: rowIdx(15), formatter: (v: number) => G_FEATURES[Math.round(v)] || '', margin: 5 }),
      splitLine: { show: false },
    },
  ];

  const grid = [
    { left: 692, top: 37.6, width: 356, height: 221.8 },
    { left: 707, top: 292.75, width: 338, height: 58 },
    { left: 67.7, top: 351.7, width: 320.6, height: 258.3 },
    { left: 545, top: 432, width: 416, height: 291, show: true, backgroundColor: '#EBEBEB', borderWidth: 0 },
    { left: 73, top: 680, width: 377, height: 282 },
    { left: 33, top: 1012, width: 393, height: 103 },
    { left: G_GRID.left, top: G_GRID.top, width: G_GRID.width, height: G_GRID.height, show: true, backgroundColor: '#EBEBEB', borderWidth: 0 },
  ];

  // ---- graphic texts
  const graphic: any[] = [];
  const letter = (t: string, x: number, y: number) => graphic.push(txt(t, x, y, { size: 22, weight: 'bold', align: 'left', va: 'top', color: '#000', family: 'Arial, "Liberation Sans", sans-serif' }));
  letter('A', 4, 3); letter('B', 547, 3); letter('C', 4, 312); letter('D', 480, 398);
  letter('E', 4, 665); letter('F', 4, 1030); letter('G', 480, 757);
  const colStep = (SK.width - SK.nodeW) / (SANKEY_AXES.length - 1);
  SANKEY_AXES.forEach((a, i) => graphic.push(txt(a, SK.left + SK.nodeW / 2 + i * colStep, 288.5, { size: 9, color: '#333' })));
  graphic.push(txt('{i|P} < 0.001', 699, 246.7, { size: 8, align: 'left', rich: { i: { fontStyle: 'italic', fontSize: 8, fontFamily: FONT, fill: '#222' } } }));
  KM_GROUPS.forEach((g, i) => graphic.push(txt(g, 603, 300 + i * 14.5, { size: 8.1, align: 'left', color: KM_COLORS[i] })));
  graphic.push(txt('XGBoost Model', 232, 326, { size: 15.5, weight: 'bold', color: '#000' }));
  graphic.push(txt('AUC = 0.975, 95% CI (0.962 - 0.989)', 261, 559, { size: 8.8, color: '#0000FF' }));
  graphic.push({
    type: 'rect', shape: { x: 958, y: 890, width: 6, height: 117 }, silent: true,
    style: { fill: new echarts.graphic.LinearGradient(0, 0, 0, 1, PALETTE.slice().reverse().map((c, i) => ({ offset: i / (PALETTE.length - 1), color: c }))) },
  });
  graphic.push(txt('High', 967, 891, { size: 9, align: 'left', color: '#333' }));
  graphic.push(txt('Low', 967, 1007, { size: 9, align: 'left', color: '#333' }));
  graphic.push(txt('Feature value', 948, 948, { size: 11, rotation: Math.PI / 2, color: '#111' }));

  return {
    animation: false,
    backgroundColor: '#fff',
    textStyle: { fontFamily: FONT },
    grid, xAxis, yAxis, series, graphic,
    legend: {
      data: KM_GROUPS, left: 949, top: 59, orient: 'vertical', icon: 'rect', itemWidth: 8, itemHeight: 1.5, itemGap: 2.8,
      selectedMode: false, textStyle: { fontSize: 8.3, fontFamily: FONT, color: '#222' },
    },
  };
}

export default function App() {
  const ref = useRef<HTMLDivElement>(null);
  useEffect(() => {
    document.body.style.margin = '0';
    const chart = echarts.init(ref.current as HTMLDivElement, null, { renderer: 'svg', width: 1065, height: 1142 });
    chart.setOption(buildOption() as any);
    return () => chart.dispose();
  }, []);
  return <div ref={ref} style={{ width: 1065, height: 1142 }} />;
}
